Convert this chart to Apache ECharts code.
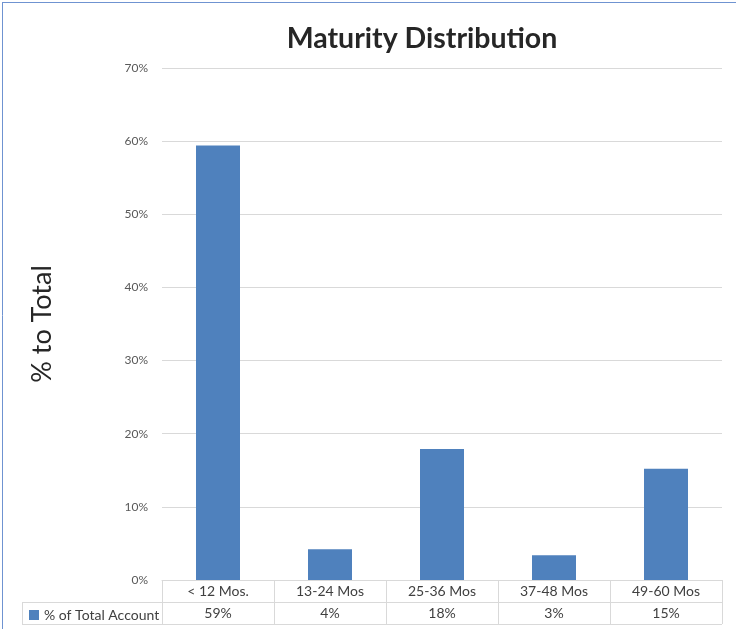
<!DOCTYPE html>
<html>
<head>
<meta charset="utf-8">
<script src="https://cdn.jsdelivr.net/npm/echarts@6/dist/echarts.min.js"></script>
<style>html,body{margin:0;padding:0;background:#fff;}#c{width:736px;height:629px;}</style>
</head>
<body>
<div id="c"></div>
<script>
const categories = ['< 12 Mos.', '13-24 Mos', '25-36 Mos', '37-48 Mos', '49-60 Mos'];
const seriesName = '% of Total Account';
const values = [59.4, 4.2, 17.9, 3.4, 15.2];
const valueLabels = ['59%', '4%', '18%', '3%', '15%'];
const yTicks = { min: 0, max: 70, interval: 10 };

const FONT = 'Lato, "Open Sans", sans-serif';
const gridColor = '#d9d9d9';
const chart = echarts.init(document.getElementById('c'));
chart.setOption({
  animation: false,
  title: {
    text: 'Maturity Distribution',
    left: 417, top: 19, textAlign: 'center',
    textStyle: { fontFamily: FONT, fontSize: 28.5, fontWeight: 'bold', color: '#262626' }
  },
  legend: {
    left: 29, top: 608, padding: 0, itemWidth: 10, itemHeight: 10, itemGap: 3,
    icon: 'rect',
    data: [seriesName],
    textStyle: { fontFamily: FONT, fontSize: 14, color: '#404040' }
  },
  grid: { left: 162, right: 14, top: 68, bottom: 49, containLabel: false },
  xAxis: [{
    type: 'category', data: categories, position: 'bottom',
    axisLine: { show: true, lineStyle: { color: gridColor } },
    axisTick: { show: true, length: 22, alignWithLabel: false, interval: 0, lineStyle: { color: gridColor } },
    axisLabel: { interval: 0, margin: 4, fontFamily: FONT, fontSize: 14, color: '#404040' }
  }, {
    type: 'category', data: valueLabels, position: 'bottom', offset: 22,
    axisLine: { show: true, lineStyle: { color: gridColor } },
    axisTick: { show: true, length: 22, alignWithLabel: false, interval: 0, lineStyle: { color: gridColor } },
    axisLabel: { interval: 0, margin: 4, fontFamily: FONT, fontSize: 14, color: '#404040' }
  }],
  yAxis: {
    type: 'value', min: yTicks.min, max: yTicks.max, interval: yTicks.interval,
    name: '% to Total', nameLocation: 'middle', nameRotate: 90, nameGap: 106,
    nameTextStyle: { fontFamily: FONT, fontSize: 27, color: '#262626' },
    axisLine: { show: false }, axisTick: { show: false },
    axisLabel: { formatter: '{value}%', margin: 14, fontFamily: FONT, fontSize: 12, color: '#595959' },
    splitLine: { lineStyle: { color: gridColor } }
  },
  series: [{
    name: seriesName, type: 'bar', data: values, xAxisIndex: 0,
    barWidth: 44, itemStyle: { color: '#4f81bd' }
  }],
  graphic: [
    { type: 'line', shape: { x1: 22, y1: 602.5, x2: 162, y2: 602.5 }, style: { stroke: gridColor, lineWidth: 1 } },
    { type: 'line', shape: { x1: 22, y1: 624.5, x2: 722, y2: 624.5 }, style: { stroke: gridColor, lineWidth: 1 } },
    { type: 'line', shape: { x1: 22.5, y1: 602, x2: 22.5, y2: 625 }, style: { stroke: gridColor, lineWidth: 1 } },
    { type: 'line', shape: { x1: 2.5, y1: 2, x2: 2.5, y2: 629 }, style: { stroke: '#6f93d1', lineWidth: 1 } },
    { type: 'line', shape: { x1: 2, y1: 2.5, x2: 736, y2: 2.5 }, style: { stroke: '#6f93d1', lineWidth: 1 } }
  ]
});
</script>
</body>
</html>
